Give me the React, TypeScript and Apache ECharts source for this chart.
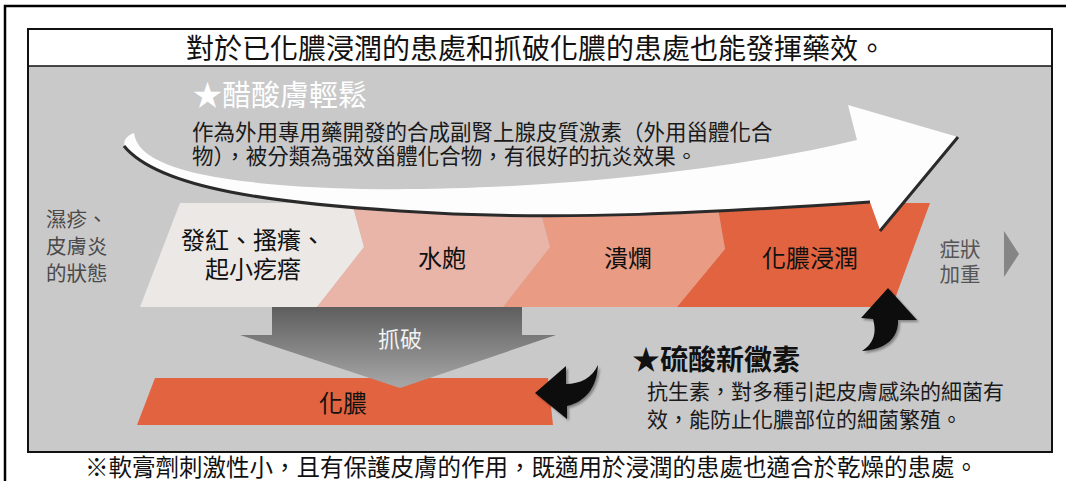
import React, { useEffect, useRef } from 'react';
import * as echarts from 'echarts';

const titleText = '對於已化膿浸潤的患處和抓破化膿的患處也能發揮藥效。';
const footnoteText = '※軟膏劑刺激性小，且有保護皮膚的作用，既適用於浸潤的患處也適合於乾燥的患處。';
const drugA = '★醋酸膚輕鬆';
const drugADesc = ['作為外用專用藥開發的合成副腎上腺皮質激素（外用甾體化合', '物），被分類為强效甾體化合物，有很好的抗炎效果。'];
const drugB = '★硫酸新黴素';
const drugBDesc = ['抗生素，對多種引起皮膚感染的細菌有', '效，能防止化膿部位的細菌繁殖。'];
const stateLabel = ['濕疹、', '皮膚炎', '的狀態'];
const worseLabel = ['症狀', '加重'];
const stageLines = [['發紅、搔癢、', '起小疙瘩'], ['水皰'], ['潰爛'], ['化膿浸潤']];
const stageColors = ['#ece8e6', '#e8b5a8', '#e99b83', '#e2633f'];
const scratchLabel = '抓破';
const pusLabel = '化膿';

const FONT = '"Noto Sans CJK TC", "Noto Sans CJK SC", sans-serif';

function txt(text: string, x: number, y: number, size: number, fill: string, align = 'left', weight = 'normal') {
  return {
    type: 'text',
    x,
    y,
    silent: true,
    style: {
      text,
      fill,
      font: `${weight} ${size}px ${FONT}`,
      textAlign: align,
      textVerticalAlign: 'middle',
    },
  };
}

export default function App() {
  const ref = useRef<HTMLDivElement>(null);

  useEffect(() => {
    if (!ref.current) return;
    const g: any = echarts.graphic;
    g.registerShape(
      'bigArrow',
      g.extendPath(
        'M134,133 C138,165 200,182 330,188 C480,194 700,178 857,140 L848,105 L958,137 L880,230 L870,202 C720,212 560,222 400,211 C280,203 160,190 125,148 C122,140 128,135 134,133 Z',
        {}
      )
    );
    g.registerShape(
      'bigArrowEdge',
      g.extendPath('M124,146 C160,190 280,203 400,211 C560,222 720,212 870,202 M880,231 L958,137', {})
    );
    g.registerShape(
      'hookLeft',
      g.extendPath('M535,393 L566,366 L566,384 C580,384 592,378 598,365 C597,388 585,402 567,406 L567,419 Z', {})
    );
    g.registerShape(
      'hookUp',
      g.extendPath('M888,288 L917,320 L898,320 C899,338 885,350 862,351 C876,342 876,330 873,319 L861,318 Z', {})
    );

    const chart = echarts.init(ref.current, null, { renderer: 'svg' });

    const stageShapes = [
      [[180, 203], [352, 203], [364, 247], [317, 307], [140, 307]],
      [[352, 203], [538, 203], [550, 247], [503, 307], [317, 307], [364, 247]],
      [[538, 203], [717, 203], [725, 249], [677, 307], [503, 307], [550, 247]],
      [[717, 203], [930, 203], [892, 307], [677, 307], [725, 249]],
    ];
    const stageCenters = [253, 442, 628, 810];

    const elements: any[] = [];
    elements.push({
      type: 'polyline',
      silent: true,
      shape: { points: [[5, 481], [5, 6], [1066, 6]] },
      style: { stroke: '#000', lineWidth: 2.5, fill: 'none' },
    });
    elements.push({
      type: 'rect',
      silent: true,
      shape: { x: 29, y: 66, width: 1022, height: 386 },
      style: { fill: '#c9c9ca' },
    });
    elements.push({
      type: 'rect',
      silent: true,
      shape: { x: 28, y: 29, width: 1024, height: 423 },
      style: { fill: 'none', stroke: '#111', lineWidth: 2 },
    });
    elements.push({
      type: 'line',
      silent: true,
      shape: { x1: 28, y1: 66, x2: 1052, y2: 66 },
      style: { stroke: '#111', lineWidth: 1.5 },
    });

    stageShapes.forEach((pts, i) => {
      elements.push({
        type: 'polygon',
        silent: true,
        shape: { points: pts },
        style: { fill: stageColors[i] },
      });
    });

    elements.push({ type: 'bigArrow', x: 0, y: 0, silent: true, style: { fill: '#fdfdfd' } });
    elements.push({
      type: 'bigArrowEdge',
      x: 0,
      y: 0,
      silent: true,
      style: { fill: 'none', stroke: '#2a2a2a', lineWidth: 3 },
    });

    stageLines.forEach((lines, i) => {
      if (lines.length === 2) {
        elements.push(txt(lines[0], stageCenters[i], 238, 24, '#111', 'center'));
        elements.push(txt(lines[1], stageCenters[i], 267, 24, '#111', 'center'));
      } else {
        elements.push(txt(lines[0], stageCenters[i], 256, 24, '#111', 'center'));
      }
    });

    stateLabel.forEach((s, i) => elements.push(txt(s, 46, 218 + i * 27, 20.5, '#4a4a4a')));
    worseLabel.forEach((s, i) => elements.push(txt(s, 960, 248 + i * 25, 20.5, '#555', 'center')));
    elements.push({
      type: 'polygon',
      silent: true,
      shape: { points: [[1004, 231], [1004, 277], [1019, 254]] },
      style: { fill: '#858585' },
    });

    elements.push({
      type: 'polygon',
      silent: true,
      shape: { points: [[155, 378], [548, 378], [553, 425], [137, 425]] },
      style: { fill: '#e2633f' },
    });
    elements.push({
      type: 'polygon',
      silent: true,
      shape: { points: [[272, 307], [522, 307], [522, 335], [556, 335], [400, 388], [240, 335], [272, 335]] },
      style: {
        fill: new echarts.graphic.LinearGradient(0, 0, 0, 1, [
          { offset: 0, color: '#5e5e5e' },
          { offset: 1, color: '#a8a8a8' },
        ]),
      },
    });
    elements.push(txt(scratchLabel, 400, 337, 22, '#f2f2f2', 'center'));
    elements.push(txt(pusLabel, 343, 401, 24, '#111', 'center'));

    const hookStyle = {
      fill: '#111',
      shadowBlur: 2,
      shadowColor: 'rgba(0,0,0,0.35)',
      shadowOffsetX: 2,
      shadowOffsetY: 2,
    };
    elements.push({ type: 'hookLeft', x: 0, y: 0, silent: true, style: hookStyle });
    elements.push({ type: 'hookUp', x: 0, y: 0, silent: true, style: hookStyle });

    elements.push(txt(drugA, 193, 93, 29, '#ffffff'));
    drugADesc.forEach((s, i) => elements.push(txt(s, 192, 130 + i * 24, 21.5, '#1a1a1a')));

    elements.push(txt(drugB, 632, 358, 28, '#111', 'left', 'bold'));
    drugBDesc.forEach((s, i) => elements.push(txt(s, 647, 390 + i * 28, 21, '#1a1a1a')));

    elements.push(txt(titleText, 186, 47, 28, '#111'));
    elements.push(txt(footnoteText, 85, 466, 23.5, '#111'));

    chart.setOption({
      animation: false,
      backgroundColor: '#ffffff',
      graphic: { elements },
    });

    return () => {
      chart.dispose();
    };
  }, []);

  return (
    <div
      ref={ref}
      style={{ position: 'absolute', left: 0, top: 0, width: 1066, height: 481 }}
    />
  );
}
